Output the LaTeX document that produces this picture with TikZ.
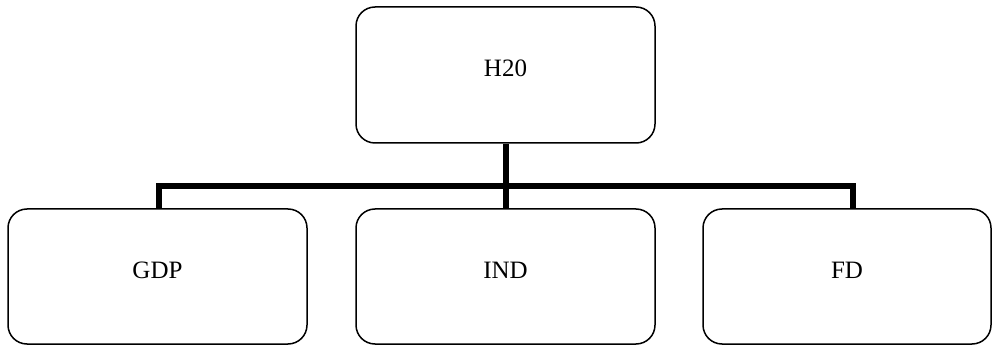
\documentclass[tikz,border=0pt]{standalone}
\usepackage{fontspec}
\setmainfont{Liberation Serif}
\begin{document}
\begin{tikzpicture}[x=1pt,y=-1pt,
  box/.style={draw=black, line width=1.5pt, rounded corners=19pt, fill=white,
    minimum width=299pt, minimum height=135pt, inner sep=0pt,
    font=\fontsize{25}{30}\selectfont, text height=17.5pt, text depth=14pt},
  conn/.style={line width=6pt, line join=miter, draw=black}]
  \useasboundingbox (0,0) rectangle (992,347);
  % boxes
  \node[box, minimum height=136pt] (top) at (505.5,75) {H20};
  \node[box] (gdp) at (157.5,276.5) {GDP};
  \node[box] (ind) at (505.5,276.5) {IND};
  \node[box, minimum width=288pt] (fd) at (847,276.5) {FD};
  % junction points on the horizontal bar
  \coordinate (jl) at (159,186);
  \coordinate (jr) at (853,186);
  % connectors
  \draw[conn] (jl |- gdp.north) -- (jl) -- (jr) -- (jr |- fd.north);
  \draw[conn] (top.south) -- (ind.north);
\end{tikzpicture}
\end{document}
